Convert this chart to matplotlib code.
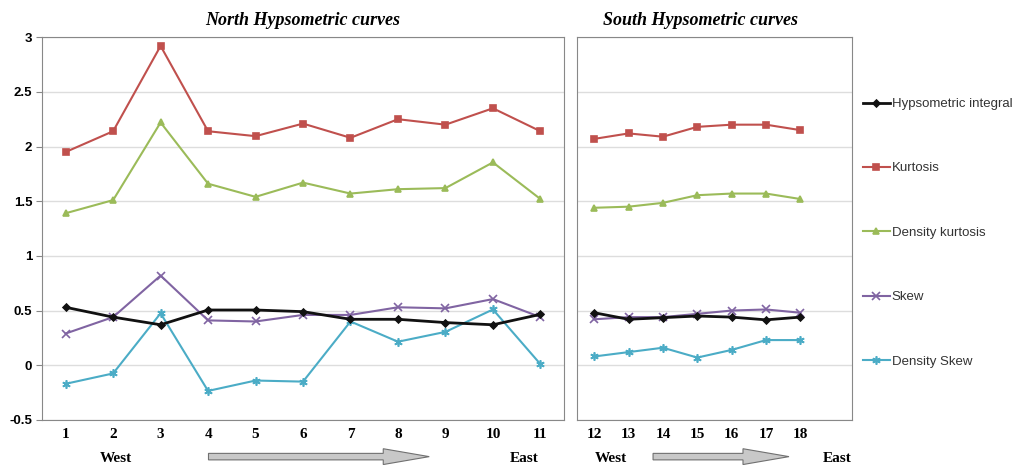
import matplotlib.pyplot as plt
from matplotlib.patches import FancyArrow
from matplotlib.lines import Line2D

north_x = [1, 2, 3, 4, 5, 6, 7, 8, 9, 10, 11]
south_x = [12, 13, 14, 15, 16, 17, 18]

north_hyp = [0.53, 0.44, 0.37, 0.505, 0.505, 0.49, 0.42, 0.42, 0.39, 0.37, 0.465]
north_kurt = [1.95, 2.14, 2.92, 2.14, 2.095, 2.21, 2.08, 2.25, 2.20, 2.35, 2.14]
north_dkurt = [1.39, 1.51, 2.22, 1.66, 1.54, 1.67, 1.57, 1.61, 1.62, 1.855, 1.52]
north_skew = [0.29, 0.44, 0.82, 0.41, 0.40, 0.46, 0.46, 0.53, 0.52, 0.605, 0.44]
north_dskew = [-0.17, -0.075, 0.475, -0.235, -0.14, -0.15, 0.40, 0.215, 0.305, 0.51, 0.01]

south_hyp = [0.48, 0.42, 0.435, 0.45, 0.44, 0.415, 0.44]
south_kurt = [2.07, 2.12, 2.09, 2.18, 2.20, 2.20, 2.15]
south_dkurt = [1.44, 1.45, 1.485, 1.555, 1.57, 1.57, 1.52]
south_skew = [0.42, 0.44, 0.44, 0.47, 0.50, 0.51, 0.48]
south_dskew = [0.08, 0.12, 0.16, 0.07, 0.14, 0.23, 0.23]

names = ['Hypsometric integral', 'Kurtosis', 'Density kurtosis', 'Skew', 'Density Skew']
colors = ['#111111', '#C0504D', '#9BBB59', '#8064A2', '#4BACC6']
markers = ['D', 's', '^', 'x', (6, 2, 0)]
msizes = [3.5, 5, 5, 6, 6]
lwidths = [2.0, 1.5, 1.5, 1.5, 1.5]

yticks = [-0.5, 0, 0.5, 1, 1.5, 2, 2.5, 3]
ylabels = ['-0.5', '0', '0.5', '1', '1.5', '2', '2.5', '3']

serif = 'Liberation Serif'
sans = 'Liberation Sans'
fig = plt.figure(figsize=(10.22, 4.65), dpi=100)
ax1 = fig.add_axes([0.041, 0.097, 0.511, 0.823])
ax2 = fig.add_axes([0.5646, 0.097, 0.269, 0.823])

north = [north_hyp, north_kurt, north_dkurt, north_skew, north_dskew]
south = [south_hyp, south_kurt, south_dkurt, south_skew, south_dskew]

for ax, xs, series in [(ax1, north_x, north), (ax2, south_x, south)]:
    for i, ys in enumerate(series):
        ax.plot(xs, ys, color=colors[i], marker=markers[i], ms=msizes[i], lw=lwidths[i],
                mew=1.2, zorder=3 if i else 4)
    ax.set_ylim(-0.5, 3)
    ax.set_yticks(yticks)
    ax.grid(axis='y', color='#dddddd', lw=1)
    ax.set_axisbelow(True)
    for s in ax.spines.values():
        s.set_color('#888888')
    ax.set_xticks(xs)
    ax.set_xticklabels([str(v) for v in xs], fontfamily=serif, fontweight='bold', fontsize=11)
    ax.tick_params(axis='x', length=0, pad=6)

ax1.set_xlim(0.5, 11.5)
ax1.set_yticklabels(ylabels, fontfamily=sans, fontweight='bold', fontsize=9.5)
ax1.tick_params(axis='y', length=4, color='#888888', pad=3)
ax2.set_xlim(11.5, 19.5)
ax2.tick_params(axis='y', length=0, labelleft=False)

ax1.set_title('North Hypsometric curves', fontfamily=serif, fontweight='bold', fontstyle='italic',
              fontsize=13, pad=9)
fig.text(0.685, 0.955, 'South Hypsometric curves', fontfamily=serif, fontweight='bold',
         fontstyle='italic', fontsize=13, ha='center', va='center')

# legend on the right
handles = [Line2D([], [], color=colors[i], marker=markers[i], ms=msizes[i], lw=lwidths[i], mew=1.2)
           for i in range(5)]
leg = fig.legend(handles, names, loc='upper left', bbox_to_anchor=(0.833, 0.815),
                 frameon=False, handlelength=2.0, handletextpad=0.15, labelspacing=3.95,
                 prop={'family': sans, 'size': 9.5})
for t in leg.get_texts():
    t.set_color('#333333')

# West / East labels and arrows
for x, txt in [(0.098, 'West'), (0.499, 'East'), (0.582, 'West'), (0.805, 'East')]:
    fig.text(x, 0.015, txt, fontfamily=serif, fontweight='bold', fontsize=11, ha='left', va='center')
for x0, x1 in [(0.204, 0.42), (0.639, 0.772)]:
    fig.patches.append(FancyArrow(x0, 0.018, x1 - x0, 0, width=0.014, head_width=0.034,
                                  head_length=0.045, length_includes_head=True,
                                  transform=fig.transFigure, facecolor='#c8c8c8',
                                  edgecolor='#707070', lw=0.8))

fig.savefig('out.png', dpi=100)
